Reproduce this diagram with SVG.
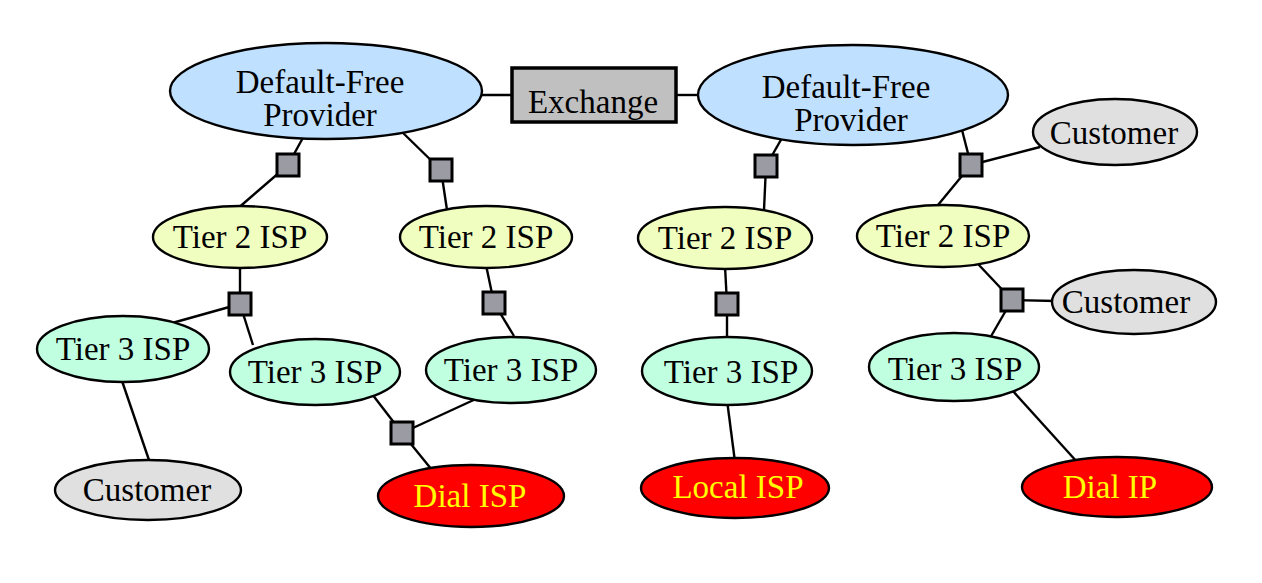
<svg xmlns="http://www.w3.org/2000/svg" width="1262" height="583" viewBox="0 0 1262 583">
<style>
  .bg{fill:#ffffff}
  .e{stroke:#000;stroke-width:2.4}
  .dfp{fill:#c0e0ff}
  .t2{fill:#f0ffc0}
  .t3{fill:#c0ffe0}
  .cu{fill:#e0e0e0}
  .rd{fill:#ff0000}
  .ex{fill:#c0c0c0;stroke:#000;stroke-width:3.5}
  .sq{fill:#9b9ba3;stroke:#000;stroke-width:3}
  .lbl{font-family:"Liberation Serif","Times New Roman",serif;font-size:33px;fill:#000;text-anchor:middle}
  .yl{fill:#ffff00}
  .c line{stroke:#000;stroke-width:2.4}
</style>
<rect class="bg" x="0" y="0" width="1262" height="583"/>
<g id="connectors" class="c">
  <line x1="305" y1="134" x2="288" y2="165"/>
  <line x1="288" y1="165" x2="236" y2="210"/>
  <line x1="400" y1="130" x2="441" y2="170"/>
  <line x1="441" y1="170" x2="447" y2="210"/>
  <line x1="478" y1="95" x2="512" y2="95"/>
  <line x1="676" y1="95" x2="702" y2="95"/>
  <line x1="782" y1="138" x2="766" y2="166"/>
  <line x1="766" y1="166" x2="764" y2="210"/>
  <line x1="962" y1="130" x2="971" y2="165"/>
  <line x1="971" y1="165" x2="938" y2="205"/>
  <line x1="971" y1="165" x2="1040" y2="147"/>
  <line x1="240" y1="265" x2="240" y2="304"/>
  <line x1="240" y1="304" x2="165" y2="325"/>
  <line x1="240" y1="304" x2="253" y2="345"/>
  <line x1="486" y1="265" x2="494" y2="303"/>
  <line x1="494" y1="303" x2="514" y2="336"/>
  <line x1="725" y1="266" x2="727" y2="304"/>
  <line x1="727" y1="304" x2="727" y2="343"/>
  <line x1="978" y1="264" x2="1012" y2="300"/>
  <line x1="1012" y1="300" x2="1056" y2="301"/>
  <line x1="1012" y1="300" x2="990" y2="338"/>
  <line x1="121" y1="378" x2="150" y2="463"/>
  <line x1="372" y1="394" x2="402" y2="433"/>
  <line x1="478" y1="398" x2="402" y2="433"/>
  <line x1="402" y1="433" x2="432" y2="470"/>
  <line x1="727" y1="400" x2="735" y2="462"/>
  <line x1="1012" y1="390" x2="1078" y2="463"/>
</g>
<g id="dfp1"><ellipse class="e dfp" cx="326" cy="91" rx="156" ry="48"/><text class="lbl" x="320" y="93">Default-Free</text><text class="lbl" x="320" y="126">Provider</text></g>
<g id="exchange"><rect class="ex" x="512" y="68" width="164" height="54"/><text class="lbl" x="593" y="113">Exchange</text></g>
<g id="dfp2"><ellipse class="e dfp" cx="853" cy="95" rx="155" ry="50"/><text class="lbl" x="846" y="98">Default-Free</text><text class="lbl" x="851" y="131">Provider</text></g>
<g id="cust2"><ellipse class="e cu" cx="1115" cy="132" rx="82" ry="33"/><text class="lbl" x="1114" y="144">Customer</text></g>
<g id="t2a"><ellipse class="e t2" cx="240" cy="237" rx="87" ry="31"/><text class="lbl" x="240" y="248">Tier 2 ISP</text></g>
<g id="t2b"><ellipse class="e t2" cx="486" cy="237" rx="86" ry="31"/><text class="lbl" x="486" y="248">Tier 2 ISP</text></g>
<g id="t2c"><ellipse class="e t2" cx="725" cy="238" rx="87" ry="31"/><text class="lbl" x="725" y="249">Tier 2 ISP</text></g>
<g id="t2d"><ellipse class="e t2" cx="943" cy="236" rx="86" ry="31"/><text class="lbl" x="943" y="247">Tier 2 ISP</text></g>
<g id="cust3"><ellipse class="e cu" cx="1134" cy="302" rx="82" ry="32"/><text class="lbl" x="1126" y="313">Customer</text></g>
<g id="t3a"><ellipse class="e t3" cx="123" cy="349" rx="86" ry="33"/><text class="lbl" x="123" y="360">Tier 3 ISP</text></g>
<g id="t3b"><ellipse class="e t3" cx="315" cy="372" rx="85" ry="33"/><text class="lbl" x="315" y="383">Tier 3 ISP</text></g>
<g id="t3c"><ellipse class="e t3" cx="511" cy="370" rx="85" ry="33"/><text class="lbl" x="511" y="381">Tier 3 ISP</text></g>
<g id="t3d"><ellipse class="e t3" cx="727" cy="371" rx="85" ry="34"/><text class="lbl" x="731" y="383">Tier 3 ISP</text></g>
<g id="t3e"><ellipse class="e t3" cx="954" cy="367" rx="85" ry="34"/><text class="lbl" x="955" y="380">Tier 3 ISP</text></g>
<g id="cust1"><ellipse class="e cu" cx="148" cy="490" rx="93" ry="30"/><text class="lbl" x="147" y="501">Customer</text></g>
<g id="dialisp"><ellipse class="e rd" cx="471" cy="496" rx="93" ry="31"/><text class="lbl yl" x="470" y="507">Dial ISP</text></g>
<g id="localisp"><ellipse class="e rd" cx="735" cy="488" rx="94" ry="30"/><text class="lbl yl" x="738" y="498">Local ISP</text></g>
<g id="dialip"><ellipse class="e rd" cx="1117" cy="487" rx="95" ry="30"/><text class="lbl yl" x="1110" y="498">Dial IP</text></g>
<g id="sq1"><rect class="sq" x="277" y="154" width="22" height="22"/></g>
<g id="sq2"><rect class="sq" x="430" y="159" width="22" height="22"/></g>
<g id="sq3"><rect class="sq" x="755" y="155" width="22" height="22"/></g>
<g id="sq4"><rect class="sq" x="960" y="154" width="22" height="22"/></g>
<g id="sq5"><rect class="sq" x="229" y="293" width="22" height="22"/></g>
<g id="sq6"><rect class="sq" x="483" y="292" width="22" height="22"/></g>
<g id="sq7"><rect class="sq" x="716" y="293" width="22" height="22"/></g>
<g id="sq8"><rect class="sq" x="1001" y="289" width="22" height="22"/></g>
<g id="sq9"><rect class="sq" x="391" y="422" width="22" height="22"/></g>
</svg>
